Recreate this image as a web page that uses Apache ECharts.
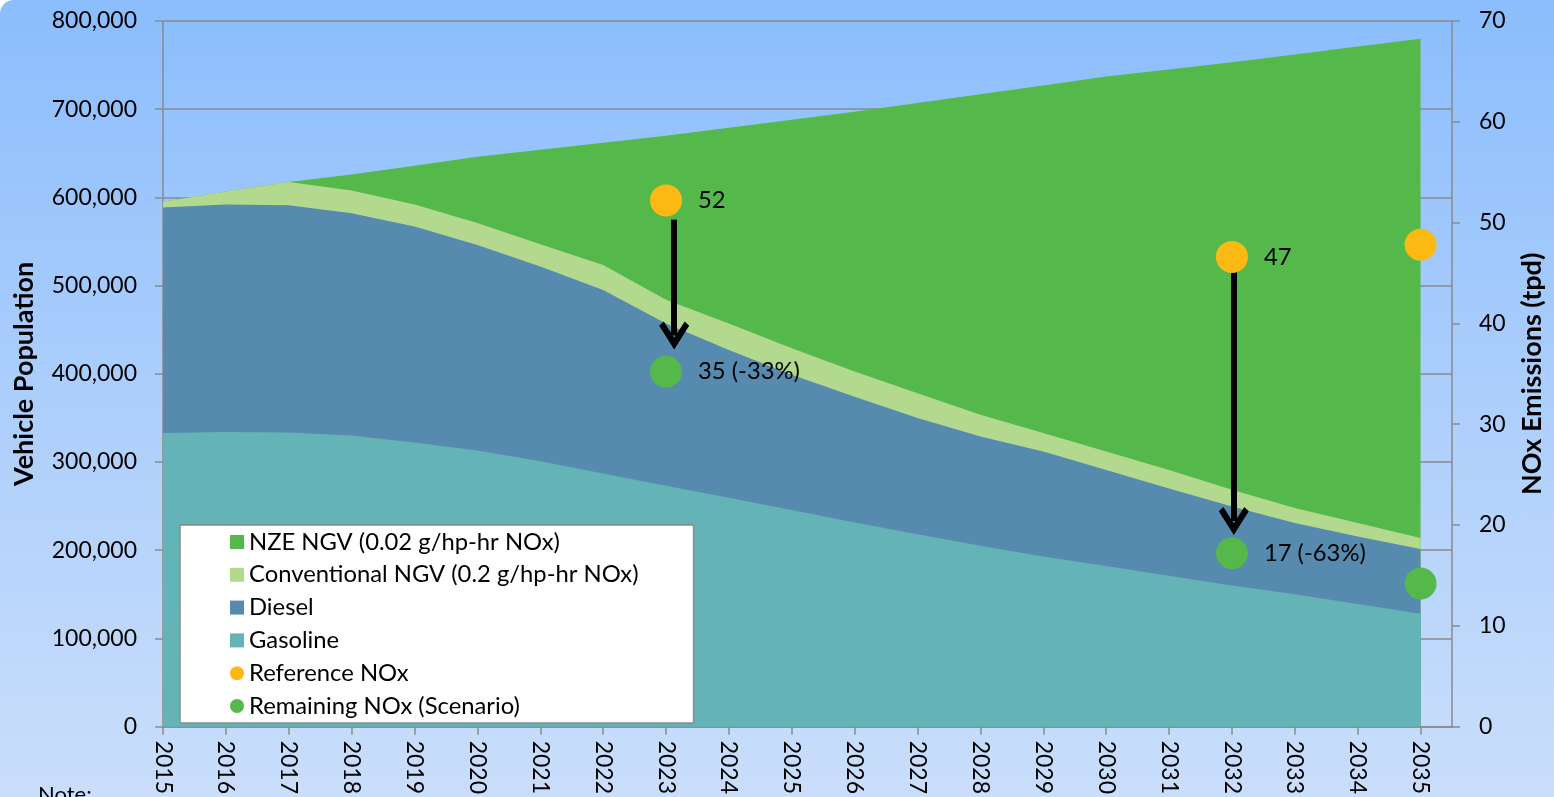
<!DOCTYPE html>
<html>
<head>
<meta charset="utf-8">
<script src="https://cdn.jsdelivr.net/npm/echarts@6/dist/echarts.min.js"></script>
<style>
  html, body { margin: 0; padding: 0; background: #ffffff; }
  #chart { width: 1554px; height: 797px; border-top-left-radius: 14px;
           background: linear-gradient(to bottom, #8bbdfc 0%, #a9cdfc 45%, #cadefb 100%); }
</style>
</head>
<body>
<div id="chart"></div>
<script>
// ---------------- data ----------------
const years = [2015, 2016, 2017, 2018, 2019, 2020, 2021, 2022, 2023, 2024, 2025,
               2026, 2027, 2028, 2029, 2030, 2031, 2032, 2033, 2034, 2035];
const gasoline = [333000, 334000, 333500, 330000, 322000, 313000, 301000, 287000, 273000, 259500, 245500,
                  231500, 218000, 205000, 193000, 182000, 171000, 160000, 150000, 139000, 128000];
const diesel = [255500, 258000, 257500, 252000, 245000, 233000, 220600, 208000, 184000, 167500, 153500,
                142500, 132000, 124000, 119000, 109000, 99000, 89600, 80800, 76600, 73300];
const conventionalNGV = [6500, 14600, 26500, 25700, 25000, 25000, 25400, 28500, 27000, 30000, 30000,
                         28600, 28000, 24500, 20800, 21000, 21000, 19000, 17000, 15200, 12500];
const nzeNGV = [0, 0, 0, 18300, 44000, 75000, 107000, 138500, 186000, 222000, 259000,
                294400, 329000, 363500, 394200, 425000, 454000, 484500, 514200, 540200, 566200];

const noxYears = [2023, 2032, 2035];
const referenceNOx = [52.2, 46.6, 47.8];
const remainingNOx = [35.2, 17.2, 14.2];
const referenceLabels = ['52', '47', ''];
const remainingLabels = ['35 (-33%)', '17 (-63%)', ''];

// arrows (annotation, in data units of the NOx axis)
const arrowYears = [2023.13, 2032.03];
const arrowFrom = [50.3, 45.7];
const arrowTo = [38.8, 20.4];

const seriesNames = {
  nze: 'NZE NGV (0.02 g/hp-hr NOx)',
  conv: 'Conventional NGV (0.2 g/hp-hr NOx)',
  diesel: 'Diesel',
  gas: 'Gasoline',
  ref: 'Reference NOx',
  rem: 'Remaining NOx (Scenario)'
};

// ---------------- chart ----------------
const FONT = 'Lato, "Noto Sans", sans-serif';
const chart = echarts.init(document.getElementById('chart'), null, { renderer: 'canvas' });

// cumulative tops (stack computed here; each area filled from 0, top layer drawn first)
const addArr = (a, b) => a.map((v, i) => v + b[i]);
const gasTop = gasoline.slice();
const dieselTop = addArr(gasTop, diesel);
const convTop = addArr(dieselTop, conventionalNGV);
const nzeTop = addArr(convTop, nzeNGV);

const pair = arr => years.map((y, i) => [y, arr[i]]);
function areaSeries(name, data, color, z) {
  return {
    name, type: 'line', data: pair(data),
    symbol: 'none', showSymbol: false,
    lineStyle: { width: 0, color }, itemStyle: { color },
    areaStyle: { color, opacity: 1, origin: 'start' },
    emphasis: { disabled: true }, z
  };
}
const chevron = 'path://M15 0 L30 22 L25.5 26 L15 11 L4.5 26 L0 22 Z';
const LBL = 23.8;

const option = {
  animation: false,
  textStyle: { fontFamily: FONT },
  grid: { left: 163, right: 101, top: 21, bottom: 70, containLabel: false },
  legend: {
    z: 30, zlevel: 0,
    orient: 'vertical', left: 180, top: 525,
    backgroundColor: '#ffffff', borderColor: '#8c8c8c', borderWidth: 1.5,
    padding: [5, 55, 5, 50], itemGap: 8.8, itemWidth: 14, itemHeight: 14,
    textStyle: { fontSize: LBL, color: '#000', fontFamily: FONT, lineHeight: 22 },
    data: [
      { name: seriesNames.nze, icon: 'rect' },
      { name: seriesNames.conv, icon: 'rect' },
      { name: seriesNames.diesel, icon: 'rect' },
      { name: seriesNames.gas, icon: 'rect' },
      { name: seriesNames.ref, icon: 'circle' },
      { name: seriesNames.rem, icon: 'circle' }
    ]
  },
  xAxis: {
    type: 'value', min: 2015, max: 2035.5, interval: 1,
    axisLine: { show: true, lineStyle: { color: '#8a8a8a', width: 1.5 } },
    axisTick: { show: true, length: 8, lineStyle: { color: '#8a8a8a', width: 1.5 }, customValues: years },
    axisLabel: { rotate: -90, margin: 14, fontSize: 23, color: '#000', fontFamily: FONT,
                 customValues: years, formatter: v => String(v) },
    splitLine: { show: false }
  },
  yAxis: [
    {
      type: 'value', min: 0, max: 800000, interval: 100000,
      name: 'Vehicle Population', nameLocation: 'middle', nameGap: 125,
      nameTextStyle: { fontSize: 27, fontWeight: 'bold', color: '#000', fontFamily: FONT },
      axisLine: { show: true, lineStyle: { color: '#8a8a8a', width: 1.5 } },
      axisTick: { show: true, length: 8, lineStyle: { color: '#8a8a8a', width: 1.5 } },
      axisLabel: { margin: 26, fontSize: 23, color: '#000', fontFamily: FONT,
                   formatter: v => v.toLocaleString('en-US') },
      splitLine: { show: true, lineStyle: { color: '#8a8a8a', width: 1.5 } }
    },
    {
      type: 'value', min: 0, max: 70, interval: 10, position: 'right',
      name: 'NOx Emissions (tpd)', nameLocation: 'middle', nameGap: 67,
      nameTextStyle: { fontSize: 27, fontWeight: 'bold', color: '#000', fontFamily: FONT },
      axisLine: { show: true, lineStyle: { color: '#8a8a8a', width: 1.5 } },
      axisTick: { show: true, length: 8, lineStyle: { color: '#8a8a8a', width: 1.5 } },
      axisLabel: { margin: 27, fontSize: 23, color: '#000', fontFamily: FONT },
      splitLine: { show: false }
    }
  ],
  series: [
    areaSeries(seriesNames.nze, nzeTop, '#55b84a', 2),
    areaSeries(seriesNames.conv, convTop, '#b3d98f', 3),
    areaSeries(seriesNames.diesel, dieselTop, '#568aaf', 4),
    areaSeries(seriesNames.gas, gasTop, '#64b3b7', 5),
    {
      name: seriesNames.ref, type: 'scatter', yAxisIndex: 1, symbol: 'circle', symbolSize: 32,
      itemStyle: { color: '#fdb913', opacity: 1 }, z: 8,
      data: noxYears.map((y, i) => ({
        value: [y, referenceNOx[i]],
        label: { show: referenceLabels[i] !== '', formatter: referenceLabels[i] }
      })),
      label: { position: 'right', distance: 16, fontSize: LBL, color: '#000', fontFamily: FONT },
      emphasis: { disabled: true }
    },
    {
      name: seriesNames.rem, type: 'scatter', yAxisIndex: 1, symbol: 'circle', symbolSize: 32,
      itemStyle: { color: '#55b84a', opacity: 1 }, z: 8,
      data: noxYears.map((y, i) => ({
        value: [y, remainingNOx[i]],
        label: { show: remainingLabels[i] !== '', formatter: remainingLabels[i] }
      })),
      label: { position: 'right', distance: 16, fontSize: LBL, color: '#000', fontFamily: FONT },
      emphasis: { disabled: true },
      markLine: {
        silent: true, animation: false,
        symbol: ['none', chevron], symbolSize: [30, 28],
        lineStyle: { color: '#000', width: 6, type: 'solid' },
        label: { show: false },
        data: arrowYears.map((x, i) => [{ coord: [x, arrowFrom[i]] }, { coord: [x, arrowTo[i]] }])
      }
    }
  ],
  graphic: [
    { type: 'text', left: 38, top: 784, silent: true,
      style: { text: 'Note:', fontSize: 22, fill: '#000', fontFamily: FONT } }
  ]
};
chart.setOption(option);
</script>
</body>
</html>
